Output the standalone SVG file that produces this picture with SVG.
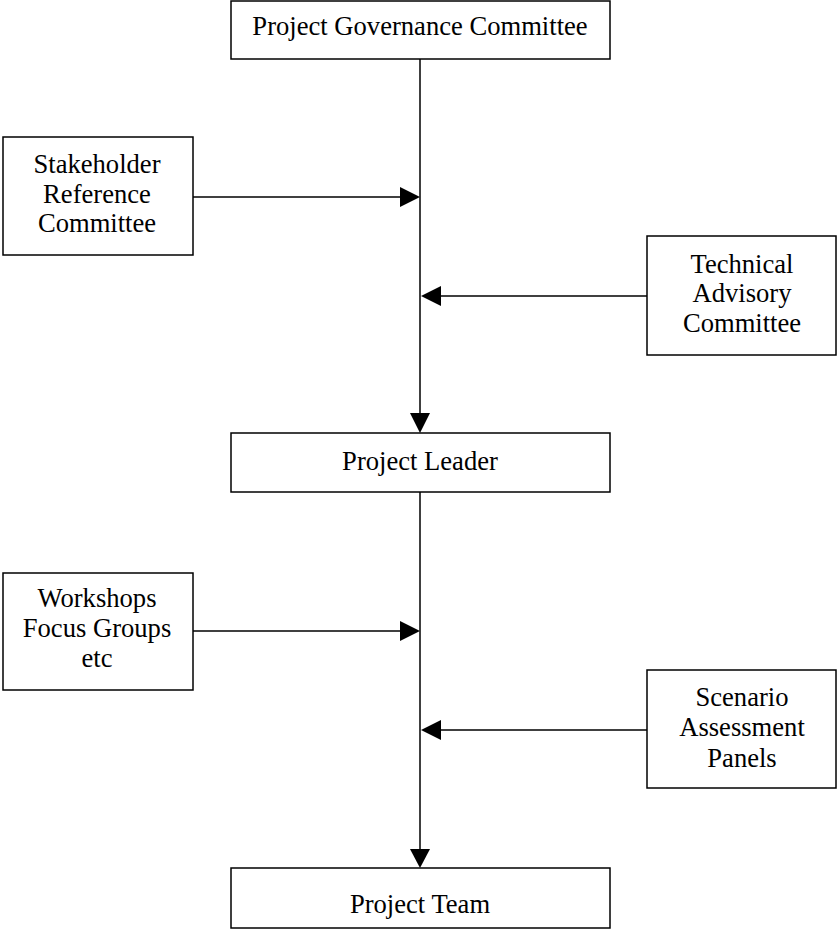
<svg xmlns="http://www.w3.org/2000/svg" width="837" height="931" viewBox="0 0 837 931">
<style>
.box{fill:#fff;stroke:#000;stroke-width:1.5}
.t{font-family:"Liberation Serif","Times New Roman",serif;font-size:26.6px;fill:#000;text-anchor:middle}
.c{stroke:#000;stroke-width:1.5;fill:none}
.ah{fill:#000}
</style>
<g id="connectors">
<line class="c" x1="420" y1="59" x2="420" y2="414"/>
<polygon class="ah" points="410,413 430,413 420,433"/>
<line class="c" x1="420" y1="492" x2="420" y2="850"/>
<polygon class="ah" points="410,849 430,849 420,868"/>
<line class="c" x1="193" y1="197" x2="401" y2="197"/>
<polygon class="ah" points="400,187 400,207 420,197"/>
<line class="c" x1="647" y1="296" x2="440" y2="296"/>
<polygon class="ah" points="441,286 441,306 421,296"/>
<line class="c" x1="193" y1="631" x2="401" y2="631"/>
<polygon class="ah" points="400,621 400,641 420,631"/>
<line class="c" x1="647" y1="730" x2="440" y2="730"/>
<polygon class="ah" points="441,720 441,740 421,730"/>
</g>
<g id="governance">
<rect class="box" x="231" y="1" width="379" height="58"/>
<text class="t" x="420" y="35">Project Governance Committee</text>
</g>
<g id="stakeholder">
<rect class="box" x="3" y="137" width="190" height="118"/>
<text class="t" x="97" y="173">Stakeholder</text>
<text class="t" x="97" y="203">Reference</text>
<text class="t" x="97" y="232">Committee</text>
</g>
<g id="technical">
<rect class="box" x="647" y="236" width="189" height="119"/>
<text class="t" x="742" y="273">Technical</text>
<text class="t" x="742" y="302">Advisory</text>
<text class="t" x="742" y="332">Committee</text>
</g>
<g id="leader">
<rect class="box" x="231" y="433" width="379" height="59"/>
<text class="t" x="420" y="470">Project Leader</text>
</g>
<g id="workshops">
<rect class="box" x="3" y="573" width="190" height="117"/>
<text class="t" x="97" y="607">Workshops</text>
<text class="t" x="97" y="637">Focus Groups</text>
<text class="t" x="97" y="667">etc</text>
</g>
<g id="scenario">
<rect class="box" x="647" y="670" width="189" height="118"/>
<text class="t" x="742" y="706">Scenario</text>
<text class="t" x="742" y="736">Assessment</text>
<text class="t" x="742" y="767">Panels</text>
</g>
<g id="team">
<rect class="box" x="231" y="868" width="379" height="60"/>
<text class="t" x="420" y="913">Project Team</text>
</g>
</svg>
